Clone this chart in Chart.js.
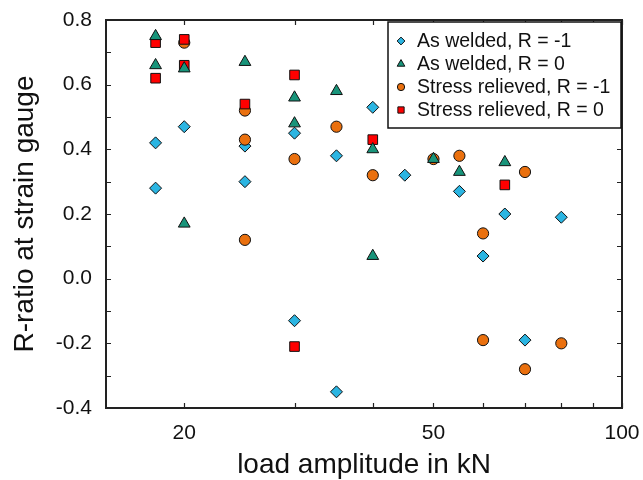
<!DOCTYPE html>
<html>
<head>
<meta charset="utf-8">
<script src="https://cdn.jsdelivr.net/npm/chart.js@4.4.1/dist/chart.umd.min.js"></script>
<style>
  html, body { margin: 0; padding: 0; background: #fff; }
  #wrap { width: 643px; height: 480px; }
</style>
</head>
<body>
<div id="wrap"><canvas id="rratio"></canvas></div>
<script>
// Data
const seriesLabels = ['As welded, R = -1', 'As welded, R = 0', 'Stress relieved, R = -1', 'Stress relieved, R = 0'];

const awNegLoad = [18, 18, 20, 25, 25, 30, 30, 35, 35, 40, 45, 55, 60, 65, 70, 80];
const awNegR    = [0.42, 0.28, 0.47, 0.41, 0.30, 0.45, -0.13, 0.38, -0.35, 0.53, 0.32, 0.27, 0.07, 0.20, -0.19, 0.19];

const awZeroLoad = [18, 18, 20, 20, 25, 30, 30, 35, 40, 40, 50, 55, 65];
const awZeroR    = [0.75, 0.66, 0.65, 0.17, 0.67, 0.56, 0.48, 0.58, 0.40, 0.07, 0.37, 0.33, 0.36];

const srNegLoad = [20, 25, 25, 25, 30, 35, 40, 50, 55, 60, 60, 70, 70, 80];
const srNegR    = [0.73, 0.52, 0.43, 0.12, 0.37, 0.47, 0.32, 0.37, 0.38, 0.14, -0.19, 0.33, -0.28, -0.20];

const srZeroLoad = [18, 18, 20, 20, 25, 30, 30, 40, 65];
const srZeroR    = [0.73, 0.62, 0.74, 0.66, 0.54, 0.63, -0.21, 0.43, 0.29];

// tick values
const xLabelTicks = [20, 50, 100];
const xMinorTicks = [20, 30, 40, 50, 60, 70, 80, 90, 100];
const yMinorTicks = [-0.4, -0.3, -0.2, -0.1, 0, 0.1, 0.2, 0.3, 0.4, 0.5, 0.6, 0.7, 0.8];

function toPoints(xs, ys) {
    return xs.map((x, i) => ({ x: x, y: ys[i] }));
}

const fillColors = ['#2bb5e2', '#18947a', '#ea700e', '#ff0000'];
const markerStyles = ['rectRot', 'triangle', 'circle', 'rect'];
const markerSizes = [6, 6.8, 5.6, 6.8];
const drawOrder = [3, 0, 2, 1]; // triangle on top, then square, circle, diamond

const allData = [
    toPoints(awNegLoad, awNegR),
    toPoints(awZeroLoad, awZeroR),
    toPoints(srNegLoad, srNegR),
    toPoints(srZeroLoad, srZeroR)
];

const datasets = allData.map((pts, i) => ({
    label: seriesLabels[i],
    data: pts,
    pointStyle: markerStyles[i],
    pointRadius: markerSizes[i],
    pointHoverRadius: markerSizes[i],
    backgroundColor: fillColors[i],
    borderColor: '#111',
    borderWidth: 1,
    order: drawOrder[i]
}));

const fontFam = '"Liberation Sans", Arial, sans-serif';

// frame + inward ticks on all four sides
const framePlugin = {
    id: 'frame',
    afterDraw(chart) {
        const ctx = chart.ctx;
        const a = chart.chartArea;
        const xs = chart.scales.x, ys = chart.scales.y;
        const tl = 5;
        ctx.save();
        ctx.strokeStyle = '#222';
        ctx.lineWidth = 1.2;
        ctx.beginPath();
        xMinorTicks.forEach(v => {
            const px = Math.round(xs.getPixelForValue(v)) + 0.5;
            ctx.moveTo(px, a.bottom); ctx.lineTo(px, a.bottom - tl);
            ctx.moveTo(px, a.top); ctx.lineTo(px, a.top + tl);
        });
        yMinorTicks.forEach(v => {
            const py = Math.round(ys.getPixelForValue(v)) + 0.5;
            ctx.moveTo(a.left, py); ctx.lineTo(a.left + tl, py);
            ctx.moveTo(a.right, py); ctx.lineTo(a.right - tl, py);
        });
        ctx.stroke();
        ctx.lineWidth = 2;
        ctx.strokeRect(a.left, a.top, a.right - a.left, a.bottom - a.top);
        ctx.restore();
    }
};

// boxed legend inside the top right corner
const boxLegendPlugin = {
    id: 'boxLegend',
    afterDraw(chart) {
        const ctx = chart.ctx;
        const a = chart.chartArea;
        const w = 233, h = 106;
        const left = a.right - 1 - w, top = a.top + 2;
        ctx.save();
        ctx.fillStyle = '#fff';
        ctx.fillRect(left, top, w, h);
        ctx.strokeStyle = '#111';
        ctx.lineWidth = 1.5;
        ctx.strokeRect(left, top, w, h);
        ctx.font = '19.5px ' + fontFam;
        ctx.textBaseline = 'middle';
        ctx.textAlign = 'left';
        chart.data.datasets.forEach((ds, i) => {
            const cy = top + 19 + i * 23;
            ctx.fillStyle = ds.backgroundColor;
            ctx.strokeStyle = '#111';
            ctx.lineWidth = 1;
            Chart.helpers.drawPoint(ctx, {
                pointStyle: ds.pointStyle,
                radius: ds.pointRadius * 0.65,
                rotation: 0,
                borderWidth: 1
            }, left + 13, cy);
            ctx.fillStyle = '#111';
            ctx.fillText(ds.label, left + 29, cy + 1);
        });
        ctx.restore();
    }
};

const chartConfig = {
    type: 'scatter',
    data: { datasets: datasets },
    options: {
        responsive: true,
        maintainAspectRatio: false,
        animation: false,
        layout: {
            padding: { top: 20, right: 21, left: 0, bottom: 0 }
        },
        plugins: {
            legend: { display: false },
            tooltip: { enabled: false }
        },
        scales: {
            x: {
                type: 'logarithmic',
                min: 15,
                max: 100,
                grid: { display: false, drawTicks: false },
                border: { display: false },
                afterBuildTicks: function(scale) {
                    scale.ticks = xLabelTicks.map(v => ({ value: v }));
                },
                afterFit: function(scale) {
                    scale.height = 72;
                    scale.paddingLeft = 0;
                    scale.paddingRight = 0;
                },
                ticks: {
                    autoSkip: false,
                    maxRotation: 0,
                    padding: 13,
                    color: '#111',
                    font: { size: 21, family: fontFam },
                    callback: function(v) { return String(v); }
                },
                title: {
                    display: true,
                    text: 'load amplitude in kN',
                    color: '#111',
                    font: { size: 28, family: fontFam, lineHeight: 1.05 },
                    padding: { top: 0, bottom: 0 }
                }
            },
            y: {
                min: -0.4,
                max: 0.8,
                grid: { display: false, drawTicks: false },
                border: { display: false },
                afterFit: function(scale) {
                    scale.width = 106;
                    scale.paddingTop = 0;
                    scale.paddingBottom = 0;
                },
                ticks: {
                    stepSize: 0.2,
                    padding: 14,
                    color: '#111',
                    font: { size: 21, family: fontFam },
                    callback: function(v) { return Number(v).toFixed(1); }
                },
                title: {
                    display: true,
                    text: 'R-ratio at strain gauge',
                    color: '#111',
                    font: { size: 28, family: fontFam },
                    padding: { top: 8, bottom: 0 }
                }
            }
        }
    },
    plugins: [framePlugin, boxLegendPlugin]
};

const rratioCtx = document.getElementById('rratio').getContext('2d');
const rratioChart = new Chart(rratioCtx, chartConfig);
</script>
</body>
</html>
